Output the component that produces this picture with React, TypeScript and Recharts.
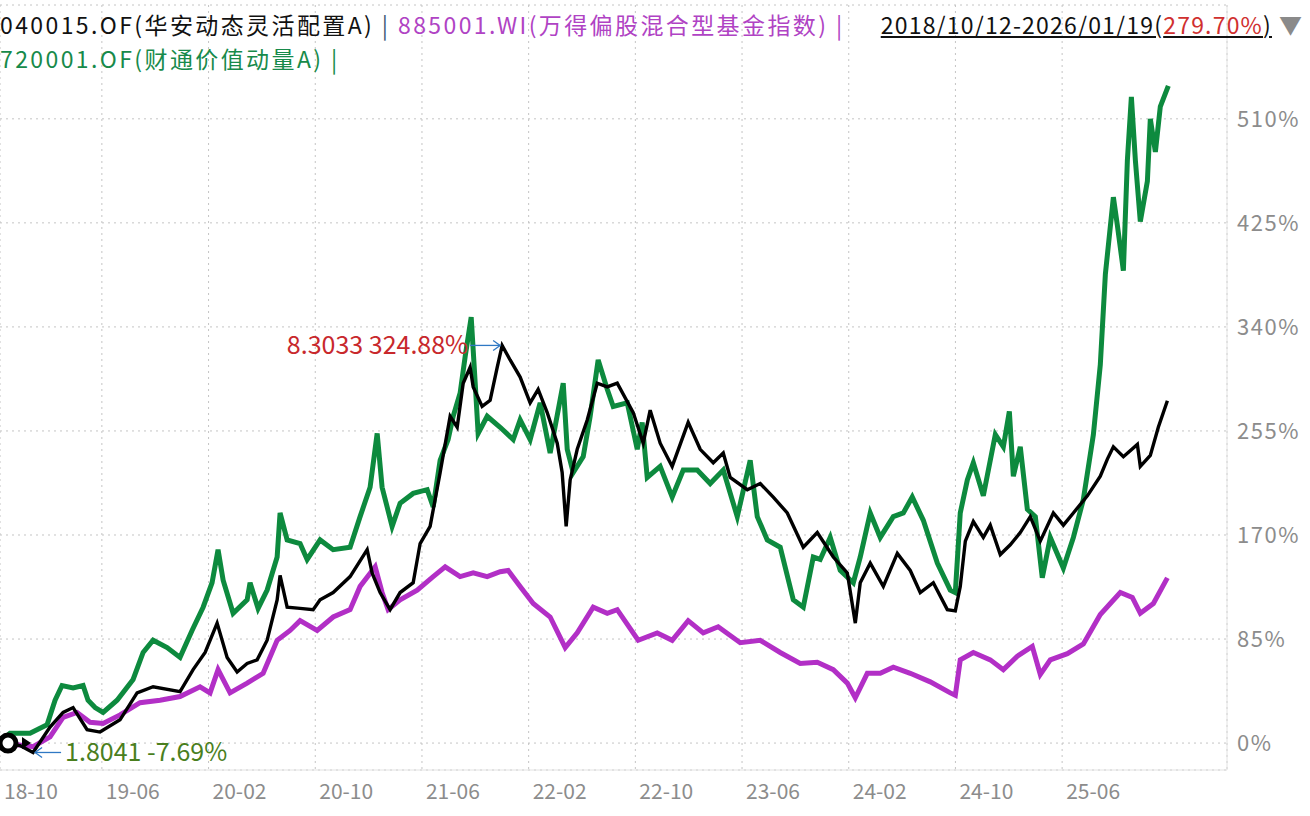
import React from 'react';
import { LineChart, Line, XAxis, YAxis, CartesianGrid, ReferenceDot } from 'recharts';

// x = months since the start date 2018-10-12, y = cumulative return in %
const huaanPoints: [number, number][] = [
  [0.15, 0], [1.5, -2], [2.48, -7.69], [3.75, 13], [4.73, 25], [5.48, 29], [6.53, 11], [7.5, 9],
  [9.0, 19], [10.28, 41], [11.48, 46], [13.5, 42], [14.48, 60], [15.38, 74], [16.28, 98], [17.03, 70],
  [17.78, 58], [18.53, 65], [19.28, 68], [20.03, 84], [20.78, 117], [21.0, 137], [21.53, 111], [22.5, 110],
  [23.48, 109], [24.0, 117], [24.98, 123], [26.25, 136], [27.53, 158], [27.9, 139], [28.5, 123], [29.25, 109],
  [30.0, 123], [30.98, 131], [31.5, 163], [32.25, 177], [33.0, 221], [33.75, 267], [34.28, 258], [34.73, 294],
  [35.25, 307], [35.48, 291], [36.15, 275], [36.75, 280], [37.28, 307], [37.65, 324.88], [38.25, 313], [39.0, 299],
  [39.75, 278], [40.35, 289], [41.03, 270], [41.78, 245], [42.15, 221], [42.45, 177], [42.75, 215], [43.28, 240],
  [44.03, 264], [44.78, 294], [45.53, 291], [46.28, 294], [47.48, 270], [48.23, 245], [48.75, 272], [49.5, 245],
  [50.4, 226], [51.6, 262], [52.5, 240], [53.48, 229], [54.23, 237], [54.75, 217], [56.03, 207], [57.0, 212],
  [57.98, 201], [59.03, 188], [60.23, 160], [61.28, 172], [62.48, 152], [63.53, 139], [64.13, 98], [64.5, 131],
  [65.25, 147], [66.23, 128], [67.28, 155], [68.25, 141], [69.0, 123], [69.98, 131], [71.03, 109], [71.63, 108],
  [72.0, 128], [72.38, 165], [72.98, 181], [73.73, 168], [74.25, 178], [75.0, 154], [75.75, 162], [76.5, 172],
  [77.25, 185], [78.0, 165], [78.98, 188], [79.73, 178], [80.48, 188], [81.53, 202], [82.5, 218], [83.03, 232],
  [83.48, 242], [84.23, 234], [85.28, 244], [85.5, 226], [86.25, 235], [86.85, 258], [87.53, 279.7],
];

const windIndexPoints: [number, number][] = [
  [0.23, 0], [2.48, -3], [3.75, 5], [4.73, 21], [5.78, 25], [6.75, 17], [7.73, 16], [9.0, 23],
  [10.5, 33], [12.0, 35], [13.5, 38], [15.0, 46], [15.75, 41], [16.35, 60], [17.25, 41], [18.53, 49],
  [19.73, 57], [20.78, 84], [21.75, 92], [22.5, 100], [23.78, 92], [24.98, 103], [26.25, 109], [27.0, 128],
  [28.13, 144], [28.65, 123], [29.1, 109], [30.0, 117], [31.28, 125], [32.48, 136], [33.38, 144], [34.5, 136],
  [35.48, 139], [36.53, 136], [37.5, 140], [38.1, 141], [39.0, 128], [39.98, 114], [41.25, 103], [42.38, 78],
  [43.28, 90], [44.48, 111], [45.53, 106], [46.28, 109], [47.85, 84], [49.28, 90], [50.4, 84], [51.6, 100],
  [52.73, 90], [53.85, 95], [55.5, 82], [57.0, 84], [58.5, 74], [60.0, 65], [61.28, 66], [62.48, 60],
  [63.53, 49], [64.13, 37], [65.03, 57], [66.0, 57], [66.98, 62], [68.25, 57], [69.75, 50], [71.25, 41],
  [71.63, 39], [72.0, 68], [72.98, 74], [74.25, 68], [75.23, 60], [76.28, 71], [77.4, 79], [78.0, 56],
  [78.75, 68], [80.03, 73], [81.23, 81], [82.5, 105], [83.25, 114], [84.0, 123], [84.9, 119], [85.5, 106],
  [86.48, 114], [87.53, 135],
];

const caitongPoints: [number, number][] = [
  [0.23, 3], [0.75, 8], [2.25, 8], [3.53, 15], [4.13, 35], [4.65, 47], [5.48, 45], [6.23, 47],
  [6.6, 35], [7.13, 29], [7.73, 25], [8.78, 35], [9.98, 52], [10.73, 74], [11.48, 84], [12.53, 78],
  [13.5, 70], [14.4, 92], [15.23, 111], [15.9, 131], [16.35, 158], [16.73, 133], [17.48, 106], [18.53, 117],
  [18.75, 131], [19.35, 110], [20.03, 125], [20.78, 152], [21.0, 188], [21.53, 166], [22.5, 163], [23.03, 150],
  [24.0, 166], [24.98, 158], [26.25, 160], [27.0, 185], [27.75, 209], [28.28, 253], [28.65, 209], [29.4, 177],
  [30.0, 196], [30.98, 204], [32.03, 207], [32.48, 193], [33.0, 231], [33.6, 248], [33.98, 267], [34.5, 286],
  [34.88, 316], [35.33, 348], [35.63, 294], [35.85, 253], [36.53, 267], [37.5, 258], [38.48, 248], [39.0, 264],
  [39.75, 248], [40.5, 278], [41.25, 237], [42.23, 294], [42.53, 240], [42.98, 221], [43.73, 234], [44.25, 267],
  [44.85, 313], [45.53, 289], [45.98, 275], [47.03, 278], [47.78, 240], [48.15, 262], [48.53, 217], [49.5, 226],
  [50.4, 201], [51.23, 223], [52.28, 223], [53.25, 212], [54.23, 223], [55.28, 185], [56.25, 231], [56.78, 185],
  [57.53, 166], [58.5, 160], [59.48, 117], [60.23, 111], [60.98, 152], [61.5, 150], [62.25, 168], [63.0, 141],
  [63.98, 131], [64.5, 152], [65.25, 188], [66.0, 168], [66.98, 185], [67.73, 188], [68.4, 201], [69.23, 182],
  [70.28, 147], [71.25, 125], [71.63, 123], [72.0, 188], [72.53, 215], [72.98, 229], [73.73, 202], [74.63, 252],
  [75.23, 242], [75.68, 271], [75.98, 218], [76.5, 242], [77.03, 191], [77.63, 185], [78.15, 135], [78.75, 168],
  [79.73, 143], [80.48, 168], [81.23, 199], [81.98, 252], [82.5, 309], [82.88, 383], [83.48, 446], [83.78, 423],
  [84.23, 386], [84.53, 476], [84.83, 528], [85.13, 476], [85.5, 426], [86.03, 459], [86.25, 510], [86.63, 483],
  [87.0, 520], [87.6, 537],
];

const startDate = '2018-10-12';
const tickDates = ['2018-10-12', '2019-06-01', '2020-02-01', '2020-10-01', '2021-06-01', '2022-02-01',
  '2022-10-01', '2023-06-01', '2024-02-01', '2024-10-01', '2025-06-01'];
const tickLabels = ['18-10', '19-06', '20-02', '20-10', '21-06', '22-02', '22-10', '23-06', '24-02', '24-10', '25-06'];
const yTicks = [0, 85, 170, 255, 340, 425, 510];

const peakPoint = { t: 37.65, v: 324.88, nav: '8.3033' };
const lowPoint = { t: 2.48, v: -7.69, nav: '1.8041' };

const monthsSinceStart = (d: string) => {
  const [y, m, day] = d.split('-').map(Number);
  const [y0, m0, d0] = startDate.split('-').map(Number);
  return (y - y0) * 12 + (m - m0) + (day - d0) / 30.4;
};
const tickMonths = tickDates.map(monthsSinceStart);

const toRows = (pts: [number, number][]) => pts.map(([t, v]) => ({ t, v }));

const FONT = "'Noto Sans CJK SC', 'Noto Sans', sans-serif";
const GRAY = '#8c8c8c';

const PeakMark = (props: any) => {
  const { cx, cy } = props;
  return (
    <g>
      <line x1={cx - 32} y1={cy} x2={cx - 2} y2={cy} stroke="#2f78c4" strokeWidth={1.3} />
      <path d={`M${cx - 9},${cy - 5} L${cx - 2},${cy} L${cx - 9},${cy + 5}`} fill="none" stroke="#2f78c4" strokeWidth={1.3} />
      <text x={cx - 34} y={cy} dy="0.35em" textAnchor="end" fill="#c8282c" fontSize={25}>
        {`${peakPoint.nav} ${peakPoint.v.toFixed(2)}%`}
      </text>
    </g>
  );
};

const LowMark = (props: any) => {
  const { cx, cy } = props;
  return (
    <g>
      <line x1={cx + 2} y1={cy} x2={cx + 28} y2={cy} stroke="#2f78c4" strokeWidth={1.3} />
      <path d={`M${cx + 9},${cy - 5} L${cx + 2},${cy} L${cx + 9},${cy + 5}`} fill="none" stroke="#2f78c4" strokeWidth={1.3} />
      <text x={cx + 32} y={cy} dy="0.35em" textAnchor="start" fill="#4a7f1e" fontSize={25}>
        {`${lowPoint.nav} ${lowPoint.v.toFixed(2)}%`}
      </text>
    </g>
  );
};

const StartMark = (props: any) => {
  const { cx, cy } = props;
  return (
    <g>
      <circle cx={cx + 8} cy={cy} r={8} fill="#fff" stroke="#000" strokeWidth={5} />
      <path d={`M${cx + 22},${cy - 6} L${cx + 31},${cy} L${cx + 22},${cy + 6} Z`} fill="#000" />
    </g>
  );
};

export default function App() {
  return (
    <div style={{ position: 'relative', width: 1310, height: 816, background: '#fff', fontFamily: FONT }}>
      <style>{'body{margin:0}'}</style>
      <LineChart
        width={1310}
        height={816}
        margin={{ top: 5, right: 0, bottom: 0, left: 0 }}
      >
        <CartesianGrid stroke="#c4c4c4" strokeDasharray="2 4" />
        <XAxis
          dataKey="t"
          type="number"
          domain={[0, 92]}
          ticks={tickMonths}
          interval={0}
          allowDuplicatedCategory={false}
          tickFormatter={(m: number, i: number) => tickLabels[i] ?? ''}
          tickLine={false}
          axisLine={{ stroke: '#e2e2e2' }}
          height={46}
          tickMargin={8}
          tick={{ fill: GRAY, fontSize: 21, textAnchor: 'start', dx: 4 }}
        />
        <YAxis
          orientation="right"
          type="number"
          domain={[-22, 603]}
          ticks={yTicks}
          interval={0}
          tickFormatter={(v: number) => `${v}%`}
          tickLine={false}
          axisLine={{ stroke: '#e2e2e2' }}
          width={83}
          tickMargin={4}
          tick={{ fill: GRAY, fontSize: 22, textAnchor: 'start', letterSpacing: 1.5 }}
        />
        <Line data={toRows(caitongPoints)} dataKey="v" type="linear" stroke="#0d8a3e" strokeWidth={5} dot={false} isAnimationActive={false} />
        <Line data={toRows(windIndexPoints)} dataKey="v" type="linear" stroke="#b22fc6" strokeWidth={5} dot={false} isAnimationActive={false} />
        <Line data={toRows(huaanPoints)} dataKey="v" type="linear" stroke="#000" strokeWidth={3.4} dot={false} isAnimationActive={false} />
        <ReferenceDot x={0} y={0} r={0} shape={StartMark} ifOverflow="visible" />
        <ReferenceDot x={peakPoint.t} y={peakPoint.v} r={0} shape={PeakMark} />
        <ReferenceDot x={lowPoint.t} y={lowPoint.v} r={0} shape={LowMark} />
      </LineChart>

      <div style={{ position: 'absolute', left: 0, top: 7, fontSize: 23, lineHeight: '34px', letterSpacing: 2.4, whiteSpace: 'nowrap' }}>
        <div>
          <span style={{ color: '#111' }}>040015.OF(华安动态灵活配置A)</span>
          <span style={{ color: '#3d5a78' }}> | </span>
          <span style={{ color: '#b043c4' }}>885001.WI(万得偏股混合型基金指数) | </span>
        </div>
        <div>
          <span style={{ color: '#178a4a' }}>720001.OF(财通价值动量A) |</span>
        </div>
      </div>
      <div style={{ position: 'absolute', right: 38, top: 7, fontSize: 23, lineHeight: '34px', letterSpacing: 1.2, whiteSpace: 'nowrap', textDecoration: 'underline', color: '#111' }}>
        2018/10/12-2026/01/19(<span style={{ color: '#d0302f' }}>279.70%</span>)
      </div>
      <div style={{ position: 'absolute', right: 8, top: 7, fontSize: 23, lineHeight: '34px', color: '#8a8a8a' }}>▼</div>
    </div>
  );
}
